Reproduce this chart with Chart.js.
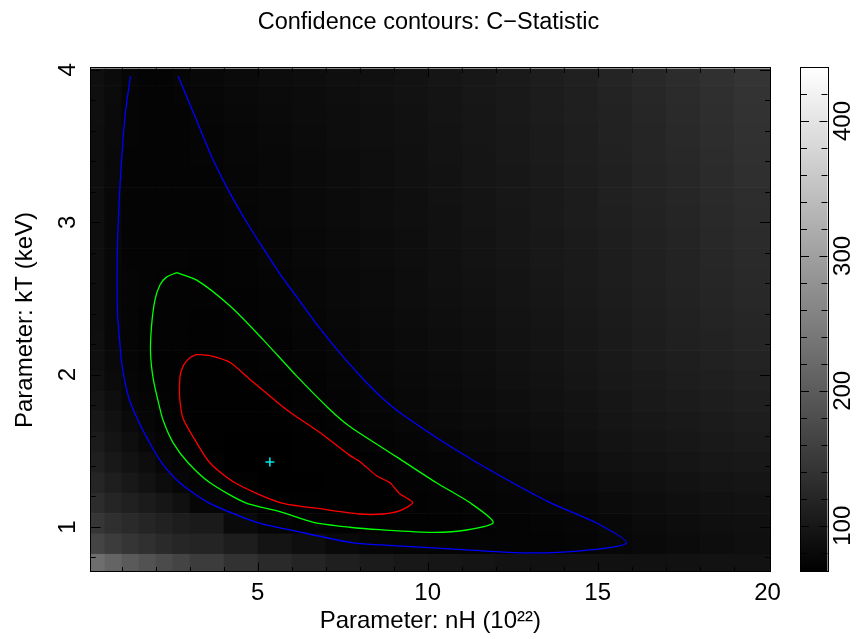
<!DOCTYPE html>
<html>
<head>
<meta charset="utf-8">
<script src="https://cdn.jsdelivr.net/npm/chart.js@4.4.1/dist/chart.umd.min.js"></script>
<style>
  html, body { margin: 0; padding: 0; background: #fff; }
  #wrap { width: 857px; height: 639px; position: relative; }
</style>
</head>
<body>
<div id="wrap"><canvas id="chart" width="857" height="639"></canvas></div>
<script>
// grid cell edges of the C-statistic map (finer near small nH where it changes fast)
const nhEdges = [0, 0.5, 1, 1.5, 2, 2.5, 3, 4, 5, 6, 7, 8, 9, 10, 11, 12, 13, 14, 15, 16, 17, 18, 19, 20.1];
const ktEdges = [4.033, 3.899, 3.765, 3.632, 3.498, 3.364, 3.23, 3.097, 2.963, 2.829, 2.695, 2.562, 2.428,
  2.294, 2.16, 2.027, 1.893, 1.759, 1.626, 1.492, 1.358, 1.224, 1.09, 0.957, 0.823, 0.69];

// C-statistic per cell, rows from kT = 4 (top) down to kT = 0.7
const cstatGrid = [
  [88, 82, 75, 72, 72, 75, 78, 81, 84, 85, 88, 89, 92, 97, 100, 104, 108, 113, 119, 125, 130, 136, 142],
  [88, 82, 73, 72, 72, 73, 76, 79, 82, 84, 86, 89, 92, 95, 100, 103, 107, 111, 117, 123, 129, 135, 141],
  [88, 81, 73, 72, 72, 72, 75, 78, 81, 84, 85, 88, 91, 95, 98, 103, 107, 111, 116, 122, 127, 133, 139],
  [86, 81, 73, 72, 72, 72, 73, 76, 79, 82, 85, 88, 91, 94, 98, 101, 105, 110, 116, 120, 126, 132, 138],
  [86, 79, 72, 72, 72, 72, 73, 76, 78, 81, 84, 86, 89, 94, 97, 101, 105, 110, 114, 120, 125, 130, 136],
  [86, 79, 72, 72, 72, 72, 72, 75, 78, 81, 84, 86, 89, 92, 97, 100, 104, 108, 113, 119, 123, 129, 135],
  [86, 78, 72, 72, 72, 72, 72, 75, 76, 79, 82, 85, 88, 92, 95, 100, 103, 107, 113, 117, 122, 127, 132],
  [86, 78, 72, 72, 72, 72, 72, 73, 76, 79, 82, 85, 88, 91, 95, 98, 103, 107, 111, 116, 120, 126, 130],
  [86, 78, 72, 72, 72, 72, 72, 73, 75, 78, 81, 84, 86, 91, 94, 98, 101, 105, 110, 114, 119, 125, 129],
  [86, 78, 72, 72, 72, 72, 70, 72, 75, 78, 81, 84, 86, 89, 94, 97, 101, 104, 108, 113, 117, 123, 127],
  [86, 78, 73, 72, 70, 70, 70, 72, 73, 76, 79, 82, 85, 89, 92, 95, 100, 104, 108, 113, 117, 122, 126],
  [86, 78, 73, 72, 70, 70, 70, 70, 72, 76, 79, 82, 85, 88, 91, 95, 98, 103, 107, 111, 116, 120, 125],
  [86, 78, 73, 70, 70, 70, 69, 70, 72, 75, 78, 81, 84, 86, 89, 94, 97, 101, 105, 110, 114, 119, 122],
  [88, 78, 73, 70, 70, 70, 69, 70, 70, 73, 76, 79, 82, 85, 88, 92, 95, 100, 104, 108, 113, 116, 120],
  [88, 79, 73, 70, 69, 69, 67, 69, 70, 72, 75, 78, 81, 84, 86, 91, 94, 98, 103, 107, 110, 114, 117],
  [91, 82, 75, 72, 69, 69, 67, 67, 69, 70, 73, 76, 79, 82, 85, 89, 92, 97, 101, 104, 108, 111, 114],
  [95, 86, 76, 73, 70, 69, 67, 67, 67, 70, 72, 75, 78, 81, 84, 86, 91, 94, 98, 103, 105, 108, 111],
  [100, 91, 81, 75, 70, 69, 67, 67, 67, 69, 70, 73, 76, 79, 82, 85, 88, 92, 97, 100, 103, 105, 108],
  [105, 95, 86, 78, 73, 70, 67, 66, 66, 67, 69, 72, 73, 76, 79, 82, 85, 89, 94, 97, 100, 103, 105],
  [111, 101, 92, 85, 76, 73, 69, 66, 66, 67, 67, 69, 72, 73, 76, 79, 82, 86, 91, 94, 97, 100, 101],
  [120, 110, 101, 92, 84, 76, 72, 69, 66, 66, 67, 67, 70, 72, 73, 76, 79, 82, 86, 89, 92, 95, 97],
  [130, 120, 113, 105, 98, 89, 75, 72, 67, 67, 67, 67, 69, 70, 72, 73, 75, 78, 82, 85, 88, 91, 92],
  [145, 135, 127, 120, 114, 108, 104, 81, 73, 70, 69, 69, 69, 69, 70, 72, 73, 75, 78, 82, 85, 88, 89],
  [166, 154, 144, 136, 127, 122, 119, 108, 95, 86, 79, 75, 73, 72, 72, 72, 72, 73, 76, 79, 82, 85, 88],
  [227, 212, 198, 186, 176, 166, 154, 139, 127, 119, 111, 105, 101, 98, 95, 92, 91, 91, 91, 91, 91, 92, 92]
];

// confidence contours (68%, 90%, 99%)
const redX = [3.4, 3.16, 2.91, 2.76, 2.71, 2.71, 2.81, 3.16, 3.6, 4.33, 5.66, 6.83, 8.0, 8.69, 9.19, 9.56,
  9.19, 8.89, 8.5, 8.0, 7.71, 6.83, 5.85, 4.77, 4.19, 3.69, 3.4];
const redY = [2.13, 2.13, 2.09, 2.03, 1.97, 1.84, 1.71, 1.57, 1.42, 1.29, 1.16, 1.12, 1.085, 1.085, 1.107, 1.16,
  1.216, 1.29, 1.336, 1.43, 1.47, 1.62, 1.77, 1.97, 2.08, 2.12, 2.13];

const greenX = [2.62, 2.32, 2.13, 1.98, 1.88, 1.85, 1.93, 2.08, 2.22, 2.52, 2.96, 3.6, 4.63, 5.66, 6.64,
  7.71, 8.6, 10.16, 11.15, 11.93, 11.24, 10.26, 9.19, 8.6, 7.71, 7.13, 6.15, 5.16, 4.19, 3.21, 2.62];
const greenY = [2.67, 2.64, 2.59, 2.49, 2.32, 2.14, 1.97, 1.82, 1.70, 1.55, 1.42, 1.29, 1.16, 1.10, 1.03,
  0.998, 0.982, 0.965, 0.98, 1.03, 1.16, 1.29, 1.445, 1.53, 1.66, 1.77, 1.99, 2.23, 2.45, 2.62, 2.67];

const blueX = [1.26, 1.1, 1.0, 0.92, 0.87, 0.88, 0.95, 1.0, 1.08, 1.22, 1.46, 1.78, 2.18, 2.71, 3.55, 4.97,
  6.05, 7.81, 8.6, 10.66, 12.81, 14.58, 15.85, 14.97, 13.6, 12.13, 10.66, 9.19, 8.6, 8.11, 7.62, 7.13,
  6.64, 6.15, 5.66, 5.16, 4.68, 4.19, 3.69, 3.11, 2.66];
const blueY = [3.96, 3.7, 3.41, 3.1, 2.76, 2.4, 2.2, 2.08, 1.97, 1.84, 1.71, 1.57, 1.42, 1.29, 1.16, 1.03,
  0.976, 0.895, 0.882, 0.856, 0.83, 0.845, 0.895, 1.026, 1.16, 1.336, 1.53, 1.75, 1.86, 1.97, 2.09, 2.22,
  2.36, 2.51, 2.66, 2.83, 3.0, 3.19, 3.41, 3.72, 3.96];

const bestFit = { nH: 5.36, kT: 1.426 };

// axes
const nhTicks = [5, 10, 15, 20];
const nhMinorTicks = [1, 2, 3, 4, 5, 6, 7, 8, 9, 10, 11, 12, 13, 14, 15, 16, 17, 18, 19];
const ktTicks = [1, 2, 3, 4];
const ktMinorTicks = [0.8, 1, 1.2, 1.4, 1.6, 1.8, 2, 2.2, 2.4, 2.6, 2.8, 3, 3.2, 3.4, 3.6, 3.8, 4];
const cbTicks = [100, 200, 300, 400];
const cbMinorTicks = [80, 100, 120, 140, 160, 180, 200, 220, 240, 260, 280, 300, 320, 340, 360, 380, 400, 420];
const cbRange = [66, 439];

const FONT = '"Liberation Sans", Arial, Helvetica, sans-serif';
Chart.defaults.font.family = FONT;
Chart.defaults.color = '#000';

function grayFor(v) {
  const t = Math.max(0, Math.min(1, (v - cbRange[0]) / (cbRange[1] - cbRange[0])));
  const g = Math.round(t * 255);
  return `rgb(${g},${g},${g})`;
}

function toPoints(xs, ys) {
  return xs.map((x, i) => ({ x: x, y: ys[i] }));
}

const heatmapPlugin = {
  id: 'heatmap',
  beforeDatasetsDraw(chart) {
    const { ctx, chartArea: a, scales: { x, y } } = chart;
    ctx.save();
    ctx.beginPath();
    ctx.rect(a.left, a.top, a.width, a.height);
    ctx.clip();
    cstatGrid.forEach((row, r) => {
      const y0 = y.getPixelForValue(ktEdges[r]);
      const y1 = y.getPixelForValue(ktEdges[r + 1]);
      row.forEach((v, c) => {
        const x0 = x.getPixelForValue(nhEdges[c]);
        const x1 = x.getPixelForValue(nhEdges[c + 1]);
        ctx.fillStyle = grayFor(v);
        ctx.fillRect(x0, y0, x1 - x0 + 0.6, y1 - y0 + 0.6);
      });
    });
    ctx.restore();
  }
};

const framePlugin = {
  id: 'frame',
  afterDatasetsDraw(chart) {
    const { ctx, chartArea: a, scales: { x, y, cb } } = chart;
    ctx.save();
    ctx.strokeStyle = '#000';
    ctx.lineWidth = 1;

    // ticks on all four sides of the plot, pointing inward
    ctx.beginPath();
    nhMinorTicks.forEach(v => {
      const px = Math.round(x.getPixelForValue(v)) + 0.5;
      const len = nhTicks.includes(v) ? 9 : 4.5;
      ctx.moveTo(px, a.bottom); ctx.lineTo(px, a.bottom - len);
      ctx.moveTo(px, a.top); ctx.lineTo(px, a.top + len);
    });
    ktMinorTicks.forEach(v => {
      const py = Math.round(y.getPixelForValue(v)) + 0.5;
      const len = ktTicks.includes(v) ? 10 : 5;
      ctx.moveTo(a.left, py); ctx.lineTo(a.left + len, py);
      ctx.moveTo(a.right, py); ctx.lineTo(a.right - len, py);
    });
    ctx.stroke();
    ctx.strokeRect(Math.round(a.left) - 0.5, Math.round(a.top) - 0.5, Math.round(a.width) + 1, Math.round(a.height) + 1);

    // colour bar
    const bl = a.right + 31, bw = 26.5;
    const top = cb.getPixelForValue(cbRange[1]);
    const bot = cb.getPixelForValue(cbRange[0]);
    const grad = ctx.createLinearGradient(0, top, 0, bot);
    grad.addColorStop(0, grayFor(cbRange[1]));
    grad.addColorStop(1, grayFor(cbRange[0]));
    ctx.fillStyle = grad;
    ctx.fillRect(bl, top, bw, bot - top);
    ctx.beginPath();
    cbMinorTicks.forEach(v => {
      const py = Math.round(cb.getPixelForValue(v)) + 0.5;
      const len = cbTicks.includes(v) ? 8 : 6;
      ctx.moveTo(bl, py); ctx.lineTo(bl + len, py);
      ctx.moveTo(bl + bw, py); ctx.lineTo(bl + bw - len, py);
    });
    ctx.stroke();
    ctx.strokeRect(Math.round(bl) - 0.5, Math.round(top) - 0.5, Math.round(bw) + 1, Math.round(bot - top) + 1);
    ctx.restore();
  }
};

const contourStyle = {
  showLine: true,
  pointRadius: 0,
  borderWidth: 1.3,
  tension: 0.25,
  fill: false
};

new Chart(document.getElementById('chart'), {
  type: 'scatter',
  data: {
    datasets: [
      { ...contourStyle, label: '99%', data: toPoints(blueX, blueY), borderColor: '#0000ff' },
      { ...contourStyle, label: '90%', data: toPoints(greenX, greenY), borderColor: '#00ff00' },
      { ...contourStyle, label: '68%', data: toPoints(redX, redY), borderColor: '#ff0000' },
      {
        label: 'best fit',
        data: [{ x: bestFit.nH, y: bestFit.kT }],
        pointStyle: 'cross',
        pointRadius: 4.5,
        borderColor: '#00e5e5',
        borderWidth: 1.6,
        showLine: false
      }
    ]
  },
  options: {
    responsive: false,
    animation: false,
    events: [],
    layout: { padding: 0, autoPadding: false },
    plugins: {
      legend: { display: false },
      tooltip: { enabled: false },
      title: {
        display: true,
        text: 'Confidence contours: C\u2212Statistic',
        font: { size: 23.5, weight: 'normal' },
        color: '#000',
        padding: { top: 8.9, bottom: 31.3 }
      }
    },
    scales: {
      x: {
        type: 'linear',
        min: 0.09,
        max: 20.07,
        grid: { display: false, drawTicks: false },
        border: { display: false },
        afterBuildTicks: s => { s.ticks = nhTicks.map(v => ({ value: v })); },
        afterFit: s => { s.height = 66.3; },
        ticks: {
          autoSkip: false, maxRotation: 0, padding: 6.9,
          font: { size: 24 },
          callback: (v, i) => String(nhTicks[i])
        },
        title: {
          display: true,
          text: 'Parameter: nH (10\u00b2\u00b2)',
          font: { size: 24 },
          padding: { top: 0, bottom: 2.6 }
        }
      },
      y: {
        type: 'linear',
        position: 'left',
        min: 0.707,
        max: 4.01,
        grid: { display: false, drawTicks: false },
        border: { display: false },
        afterBuildTicks: s => { s.ticks = ktTicks.map(v => ({ value: v })); },
        afterFit: s => { s.width = 90.7; },
        ticks: {
          autoSkip: false, minRotation: 90, maxRotation: 90, crossAlign: 'center', padding: 16,
          font: { size: 24 },
          callback: (v, i) => String(ktTicks[i])
        },
        title: {
          display: true,
          text: 'Parameter: kT (keV)',
          font: { size: 24 },
          padding: { top: 10.6, bottom: 0 }
        }
      },
      cb: {
        type: 'linear',
        position: 'right',
        min: cbRange[0],
        max: cbRange[1],
        grid: { display: false, drawTicks: false },
        border: { display: false },
        afterBuildTicks: s => { s.ticks = cbTicks.map(v => ({ value: v })); },
        afterFit: s => { s.width = 87; },
        ticks: {
          autoSkip: false, minRotation: 90, maxRotation: 90, crossAlign: 'center', padding: 53,
          font: { size: 24 },
          callback: (v, i) => String(cbTicks[i])
        }
      }
    }
  },
  plugins: [heatmapPlugin, framePlugin]
});
</script>
</body>
</html>
